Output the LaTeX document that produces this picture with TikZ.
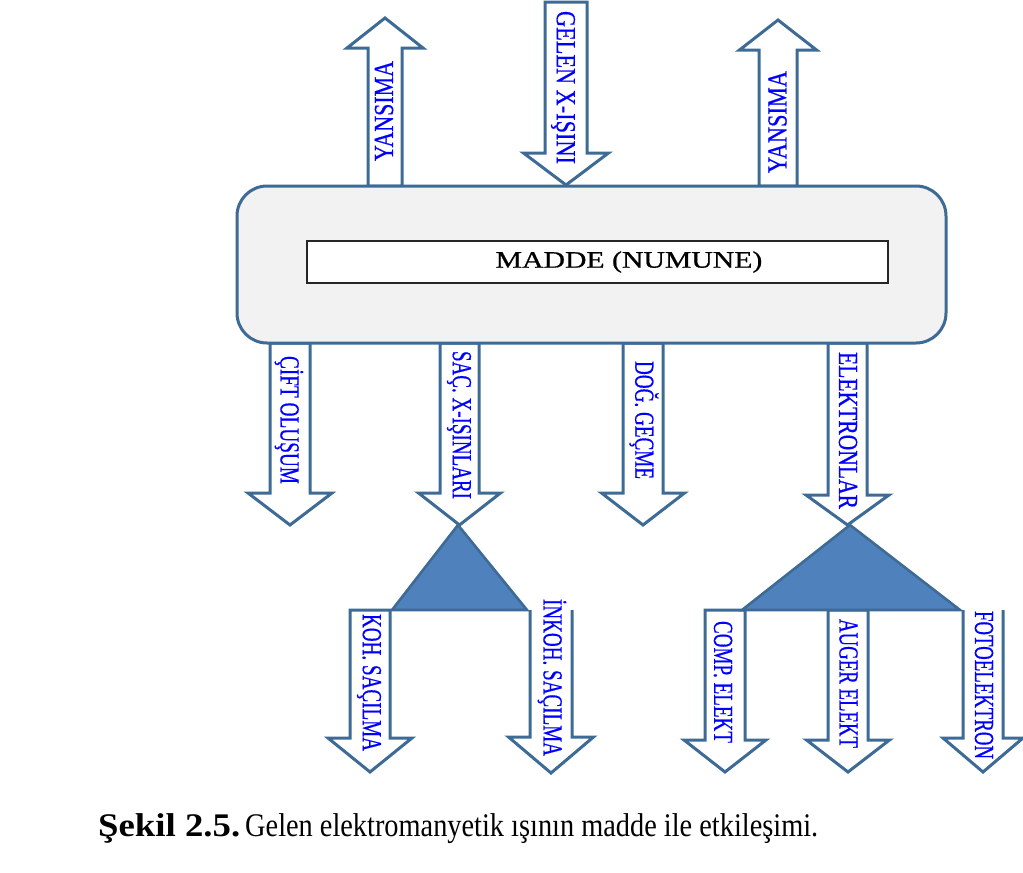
\documentclass[tikz,border=0pt]{standalone}
\usepackage{fontspec}
\setmainfont{Liberation Serif}
\newfontfamily\lblfont[FakeBold=0.6]{Liberation Serif}
\definecolor{edge}{HTML}{3E6A96}
\definecolor{trifill}{HTML}{4F81BD}
\definecolor{boxfill}{HTML}{F2F2F2}
\definecolor{lblblue}{HTML}{0000FF}
\tikzset{
  blockarrow/.style={draw=edge, fill=white, line width=3pt, line join=miter},
  openarrow/.style={draw=edge, line width=3pt, line join=miter},
  lbl/.style={text=lblblue, inner sep=0pt, font=\lblfont\fontsize{21.5}{22}\selectfont},
  tri/.style={draw=edge, fill=trifill, line width=2.6pt, line join=miter},
}
% cx, half shaft, start y, head base y, half head, tip y
\newcommand\blockarr[6]{%
  \draw[blockarrow] (#1-#2,#3) -- (#1-#2,#4) -- (#1-#5,#4) -- (#1,#6) -- (#1+#5,#4) -- (#1+#2,#4) -- (#1+#2,#3) -- cycle;}
\newcommand\openarr[6]{%
  \fill[white] (#1-#2,#3) -- (#1-#2,#4) -- (#1-#5,#4) -- (#1,#6) -- (#1+#5,#4) -- (#1+#2,#4) -- (#1+#2,#3) -- cycle;
  \draw[openarrow] (#1-#2,#3) -- (#1-#2,#4) -- (#1-#5,#4) -- (#1,#6) -- (#1+#5,#4) -- (#1+#2,#4) -- (#1+#2,#3);}
% #1 = length of the label along the arrow
\newcommand\vtext[2]{\resizebox{#1pt}{\height}{\scalebox{1}[1.28]{#2}}}
\begin{document}
\begin{tikzpicture}[x=1pt,y=-1pt]
\useasboundingbox[fill=white] (0,0) rectangle (1023,873);
% top arrows
\blockarr{385}{17}{186}{48}{38}{18}
\blockarr{566}{21}{2}{153}{42.5}{185}
\blockarr{778}{19}{186}{50}{38.5}{20}
% lower arrows from the sample
\blockarr{290}{20}{343}{493}{42}{525}
\blockarr{459.5}{19.5}{343}{493}{41}{525}
\blockarr{643}{20}{343}{493}{41.5}{525}
\blockarr{847.5}{19.5}{343}{495}{41.5}{525}
% bottom arrows
\blockarr{370}{20}{610}{738}{42}{772}
\openarr{551}{21}{610}{737}{42.5}{773}
\blockarr{725}{20}{610}{740}{41}{772}
\blockarr{848}{20}{610}{740}{41.5}{772}
\openarr{983}{20}{610}{738}{40}{772}
% triangles
\draw[tri] (458,525) -- (527,610) -- (392,610) -- cycle;
\draw[tri] (850,525) -- (960,610) -- (742,610) -- cycle;
% main box
\node[draw=edge, fill=boxfill, rounded corners=30pt, line width=3pt,
      minimum width=709pt, minimum height=157pt, inner sep=0pt] (box) at (591.5,264.5) {};
\node[draw=black!85, fill=white, line width=1.4pt, minimum width=581pt, minimum height=42pt,
      inner sep=0pt] (inner) at (597.5,262) {};
\node[inner sep=0pt, font=\lblfont\fontsize{23.6}{24}\selectfont] (madde) at (629,262)
  {\scalebox{1.26}[1]{MADDE (NUMUNE)}};
% labels
\node[lbl, rotate=90] (yl) at (384,111) {\vtext{100}{YANSIMA}};
\node[lbl, rotate=-90] (gelen) at (563,87.5) {\vtext{153}{GELEN X-IŞINI}};
\node[lbl, rotate=90] (yr) at (777.5,122) {\vtext{102}{YANSIMA}};
\node[lbl, rotate=-90] (cift) at (289,420) {\vtext{128}{ÇİFT OLUŞUM}};
\node[lbl, rotate=-90] (sac) at (459,425) {\vtext{148}{SAÇ. X-IŞINLARI}};
\node[lbl, rotate=-90] (dog) at (644,420) {\vtext{118}{DOĞ. GEÇME}};
\node[lbl, rotate=-90] (elek) at (848,430.5) {\vtext{157}{ELEKTRONLAR}};
\node[lbl, rotate=-90] (koh) at (369,682.5) {\vtext{137}{KOH. SAÇILMA}};
\node[lbl, rotate=-90] (inkoh) at (552,677.5) {\vtext{157}{İNKOH. SAÇILMA}};
\node[lbl, rotate=-90] (comp) at (723,682) {\vtext{122}{COMP. ELEKT}};
\node[lbl, rotate=-90] (auger) at (848.5,683.5) {\vtext{129}{AUGER ELEKT}};
\node[lbl, rotate=-90] (foto) at (984,685) {\vtext{148}{FOTOELEKTRON}};
% caption
\node[anchor=base west, inner sep=0pt, font=\fontsize{33}{34}\selectfont] (caption) at (98,836)
  {\resizebox{142pt}{\height}{\bfseries Şekil 2.5.}\hspace{5pt}\resizebox{573pt}{\height}{Gelen elektromanyetik ışının madde ile etkileşimi.}};
\end{tikzpicture}
\end{document}
